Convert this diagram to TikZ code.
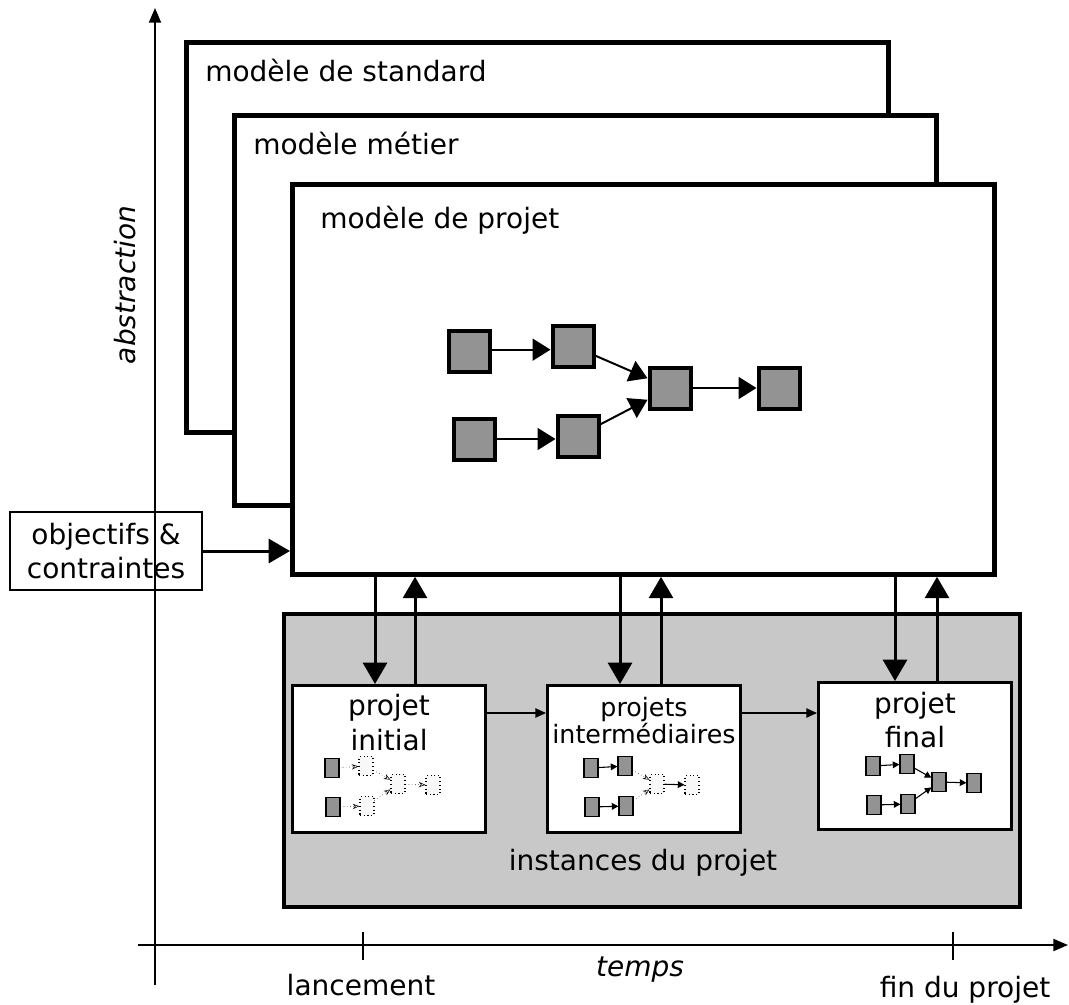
\documentclass[tikz,border=0pt]{standalone}
\usepackage{fontspec}
\setmainfont{DejaVu Sans}
\usetikzlibrary{arrows.meta,positioning}
\definecolor{grisfond}{RGB}{200,200,200}
\definecolor{grisetape}{RGB}{147,147,147}
\definecolor{grisfantome}{RGB}{248,248,248}
\tikzset{
  txt/.style={font=\fontsize{21}{26}\selectfont, inner sep=0pt},
  txtpetit/.style={font=\fontsize{19}{19}\selectfont, inner sep=0pt},
  italique/.style={font=\fontsize{21}{26}\selectfont\itshape, inner sep=0pt},
  axe/.style={-{Triangle[length=11pt,width=9pt]}, line width=1.5pt},
  cadre/.style={draw, line width=3.6pt, fill=white, inner sep=0pt, anchor=north west,
    minimum width=526.5pt, minimum height=292.5pt},
  etape/.style={draw, line width=3pt, fill=grisetape, minimum size=30.75pt, inner sep=0pt},
  lien/.style={-{Triangle[length=13.5pt,width=16.5pt]}, line width=1.5pt},
  flux/.style={-{Triangle[length=16pt,width=18pt]}, line width=2.25pt},
  suite/.style={-{Triangle[length=8pt,width=7pt]}, line width=1pt},
  instance/.style={draw, line width=2.25pt, fill=white, inner sep=0pt, anchor=north west,
    minimum width=144.75pt, minimum height=110pt},
  petite/.style={draw, line width=0.8pt, fill=grisetape, minimum width=10.5pt,
    minimum height=14pt, inner sep=0pt},
  fantome/.style={petite, fill=grisfantome, dotted},
  plein/.style={-{Triangle[length=5pt,width=5pt]}, line width=0.8pt},
  pointille/.style={-{Stealth[open,length=5pt,width=4pt]}, line width=0.4pt, dotted},
}
% small graph inside an instance: prefix, origin, style col. 2, style c/d, edges
\newcommand{\minigraphe}[7]{%
  \begin{scope}[shift={#2}]
    \node[petite] (#1a1) at (0,0) {};
    \node[petite] (#1b1) at (1,39) {};
    \node[#3] (#1a2) at (34,-2) {};
    \node[#3] (#1b2) at (35,38) {};
    \node[#4] (#1c) at (66,16) {};
    \node[#4] (#1d) at (101,17) {};
    \draw[#5] (#1a1) -- (#1a2);
    \draw[#5] (#1b1) -- (#1b2);
    \draw[#6] (#1a2) -- (#1c);
    \draw[#6] (#1b2) -- (#1c);
    \draw[#7] (#1c) -- (#1d);
  \end{scope}%
}

\begin{document}
\begin{tikzpicture}[x=0.75pt,y=-0.75pt]
  \useasboundingbox (0,0) rectangle (1069,1004);
  % axes
  \coordinate (ybas) at (155,985);
  \coordinate (yhaut) at (155,8);
  \coordinate (xgauche) at (138,945);
  \coordinate (xdroite) at (1068,945);
  \draw[axe] (ybas) -- (yhaut);
  \draw[axe] (xgauche) -- (xdroite);
  \draw[line width=1.5pt] (363,932) -- (363,960);
  \draw[line width=1.5pt] (953,932) -- (953,960);
  \node[txt] (lanc) at (361,985) {lancement};
  \node[italique] (temps) at (640,970) {temps};
  \node[txt] (fin) at (965,990) {fin du projet};
  \node[italique, rotate=90] (abs) at (125,285) {abstraction};
  % the three model layers
  \node[cadre] (std) at (184,40) {};
  \node[txt, anchor=west] at ([shift={(21,30)}]std.north west) {modèle de standard};
  \node[cadre] (met) at (232,113) {};
  \node[txt, anchor=west] at ([shift={(21,30)}]met.north west) {modèle métier};
  \node[cadre] (prj) at (290,182) {};
  \node[txt, anchor=west] at ([shift={(30,38)}]prj.north west) {modèle de projet};
  % project model graph
  \node[etape] (a1) at (469,351) {};
  \node[etape] (a2) at (573,346) {};
  \node[etape] (b1) at (474,439) {};
  \node[etape] (b2) at (578,436) {};
  \node[etape] (c) at (670,388) {};
  \node[etape] (d) at (779,388) {};
  \draw[lien] ([yshift=1pt]a1.east) -- ([yshift=1pt]a1.east -| a2.west);
  \draw[lien] (b1.east) -- (b1.east -| b2.west);
  \draw[lien] (a2) -- (c);
  \draw[lien] (b2) -- (c);
  \draw[lien] (c) -- (d);
  % inputs
  \node[draw, line width=1.5pt, txt, align=center, minimum width=144pt,
    minimum height=58.5pt] (obj) at (106,551) {objectifs \&\\contraintes};
  \draw[flux] (obj.east) -- (obj.east -| prj.west);
  % instances
  \node[draw, line width=3.3pt, fill=grisfond, anchor=north west, inner sep=0pt,
    minimum width=552pt, minimum height=219.75pt] (inst) at (282,612) {};
  \node[txt] at (643,863) {instances du projet};
  \node[instance] (p1) at (291,684) {};
  \node[instance] (p2) at (546,684) {};
  \node[instance] (p3) at (817,681) {};
  \node[txt, align=center, below=7.5pt of p1.north] {projet\\initial};
  \node[txtpetit, align=center, below=9.5pt of p2.north] {projets\\intermédiaires};
  \node[txt, align=center, below=8pt of p3.north] {projet\\final};
  \draw[suite] ([yshift=-21.75pt]p1.north east) -- ([yshift=-21.75pt]p1.north east -| p2.west);
  \draw[suite] ([yshift=-21.75pt]p2.north east) -- ([yshift=-21.75pt]p2.north east -| p3.west);
  \minigraphe{pi}{(332,768)}{fantome}{fantome}{pointille}{pointille}{pointille}
  \minigraphe{pm}{(591,768)}{petite}{fantome}{plein}{pointille}{plein}
  \minigraphe{pf}{(873,766)}{petite}{petite}{plein}{plein}{plein}
  % exchanges between model and instances
  \draw[flux] ([xshift=-10.5pt]p1.north |- prj.south) -- ([xshift=-10.5pt]p1.north);
  \draw[flux] ([xshift=19.5pt]p1.north) -- ([xshift=19.5pt]p1.north |- prj.south);
  \draw[flux] ([xshift=-18pt]p2.north |- prj.south) -- ([xshift=-18pt]p2.north);
  \draw[flux] ([xshift=12.75pt]p2.north) -- ([xshift=12.75pt]p2.north |- prj.south);
  \draw[flux] ([xshift=-15pt]p3.north |- prj.south) -- ([xshift=-15pt]p3.north);
  \draw[flux] ([xshift=16.5pt]p3.north) -- ([xshift=16.5pt]p3.north |- prj.south);
\end{tikzpicture}
\end{document}
